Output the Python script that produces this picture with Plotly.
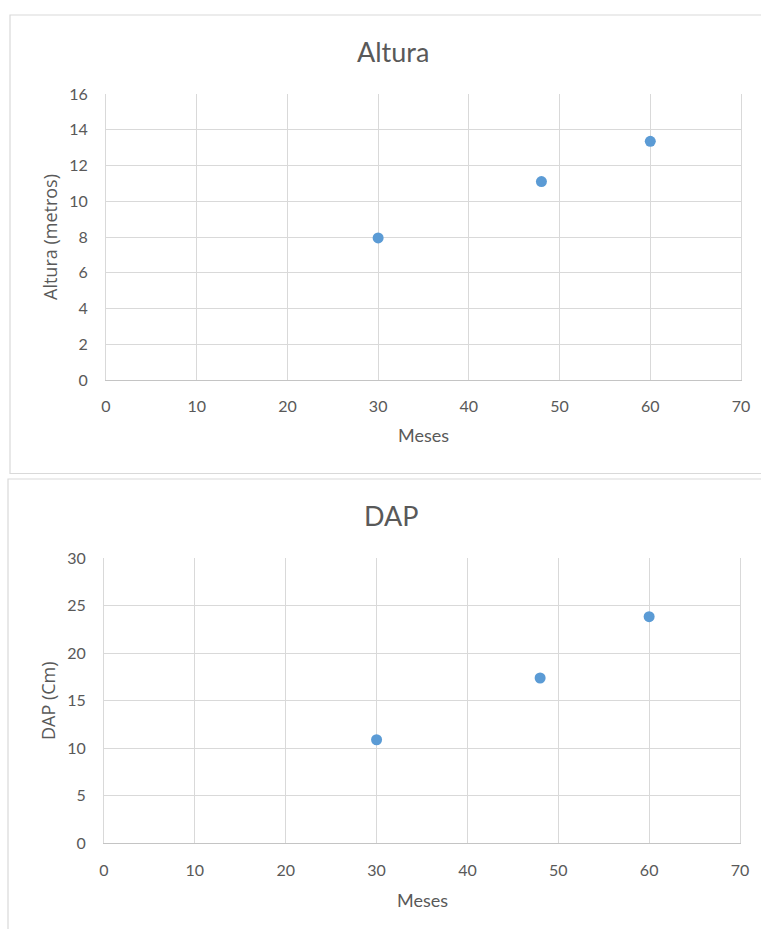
import plotly.graph_objects as go

W, H = 761, 929

# Data
meses = [30, 48, 60]
altura = [7.95, 11.1, 13.35]
dap = [10.9, 17.4, 23.85]

x_ticks = [0, 10, 20, 30, 40, 50, 60, 70]
altura_ticks = [0, 2, 4, 6, 8, 10, 12, 14, 16]
dap_ticks = [0, 5, 10, 15, 20, 25, 30]

BLUE = "#5B9BD5"
GRID = "#d9d9d9"
TXT = "#595959"

def px(x):
    return x / W

def py(y):
    return 1 - y / H

fig = go.Figure()
fig.add_trace(go.Scatter(x=meses, y=altura, mode="markers", xaxis="x", yaxis="y",
                         marker=dict(color=BLUE, size=11), showlegend=False))
fig.add_trace(go.Scatter(x=meses, y=dap, mode="markers", xaxis="x2", yaxis="y2",
                         marker=dict(color=BLUE, size=11), showlegend=False))

tickfont = dict(family="Lato", size=16, color=TXT)

def xax(domain, anchor):
    return dict(domain=domain, anchor=anchor, range=[0, 70], tickvals=x_ticks,
                showgrid=True, gridcolor=GRID, gridwidth=1, zeroline=False,
                showline=True, linecolor="#c4c4c4", linewidth=1, mirror=False,
                ticks="", tickfont=tickfont, ticklabelstandoff=12, fixedrange=True,
                automargin=False)

def yax(domain, anchor, rng, tv):
    return dict(domain=domain, anchor=anchor, range=rng, tickvals=tv,
                showgrid=True, gridcolor=GRID, gridwidth=1, zeroline=False,
                showline=True, linecolor=GRID, linewidth=1, mirror=True,
                ticks="", tickfont=tickfont,
                ticklabelstandoff=14, fixedrange=True, automargin=False)

fig.update_layout(
    width=W, height=H, autosize=False,
    margin=dict(l=0, r=0, t=0, b=0, pad=0, autoexpand=False),
    paper_bgcolor="white", plot_bgcolor="white",
    xaxis=xax([px(106), px(741)], "y"),
    yaxis=yax([py(380), py(94)], "x", [0, 16], altura_ticks),
    xaxis2=xax([px(104), px(740)], "y2"),
    yaxis2=yax([py(843.3), py(558.3)], "x2", [0, 30], dap_ticks),
)

# Chart area borders
fig.add_shape(type="rect", xref="paper", yref="paper",
              x0=px(10), x1=px(776), y0=py(473.5), y1=py(15),
              line=dict(color=GRID, width=1.2), fillcolor="rgba(0,0,0,0)", layer="below")
fig.add_shape(type="rect", xref="paper", yref="paper",
              x0=px(8), x1=px(774), y0=py(940), y1=py(479),
              line=dict(color=GRID, width=1.2), fillcolor="rgba(0,0,0,0)", layer="below")

titlefont = dict(family="Lato", size=27, color=TXT)
xtitlefont = dict(family="Lato", size=18, color=TXT)
ytitlefont = dict(family="Open Sans", size=18, color=TXT)

anns = [
    dict(text="Altura", x=px(393), y=py(52), font=titlefont),
    dict(text="Meses", x=px(423.5), y=py(435), font=xtitlefont),
    dict(text="Altura (metros)", x=px(50), y=py(237), font=ytitlefont, textangle=-90),
    dict(text="DAP", x=px(391), y=py(515), font=titlefont),
    dict(text="Meses", x=px(422), y=py(900), font=xtitlefont),
    dict(text="DAP (Cm)", x=px(48), y=py(700), font=ytitlefont, textangle=-90),
]
for a in anns:
    fig.add_annotation(xref="paper", yref="paper", showarrow=False,
                       xanchor="center", yanchor="middle", **a)

fig.write_html("out.html", config={"displayModeBar": False},
               post_script="document.body.style.margin='0';document.body.style.overflow='hidden';")
